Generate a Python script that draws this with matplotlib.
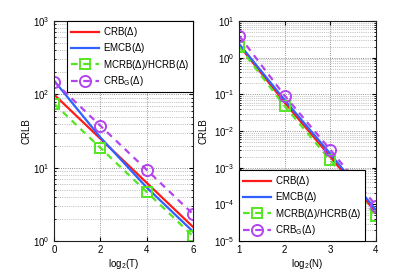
import numpy as np
import matplotlib
matplotlib.use("Agg")
import matplotlib.pyplot as plt
from matplotlib.ticker import LogLocator, NullFormatter

plt.rcParams['font.family'] = ['Liberation Sans', 'DejaVu Sans']
plt.rcParams['mathtext.default'] = 'regular'
plt.rcParams['font.size'] = 7

# left panel: x = log2(T)
logT = [0, 2, 4, 6]
crb_T = [100, 25, 6.25, 1.5625]
emcb_T = [155, 26, 5.4, 1.35]
mcrb_T = [75, 18.75, 4.69, 1.17]
crbg_T = [150, 37.5, 9.4, 2.34]

# right panel: x = log2(N)
logN = [1, 2, 3, 4]
crb_N = [2.2, 0.06, 0.002, 6e-5]
emcb_N = [2.4, 0.07, 0.0024, 7e-5]
mcrb_N = [2.0, 0.048, 0.0016, 4.8e-5]
crbg_N = [4.0, 0.092, 0.0031, 9.3e-5]

labels = [r'CRB($\Delta$)', r'EMCB($\Delta$)',
          r'MCRB($\Delta$)/HCRB($\Delta$)', r'CRB$_G$($\Delta$)']
red = '#ff1a1a'
blue = '#3060ff'
green = '#55e622'
purple = '#b444ee'


def draw(ax, x, crb, emcb, mcrb, crbg):
    ax.semilogy(x, crb, '-', color=red, lw=1.6, label=labels[0])
    ax.semilogy(x, emcb, '-', color=blue, lw=1.6, label=labels[1])
    ax.semilogy(x, mcrb, '--s', color=green, lw=1.6, ms=7, mfc='none',
                mew=1.4, dashes=(3, 2.5), label=labels[2])
    ax.semilogy(x, crbg, '--o', color=purple, lw=1.6, ms=8, mfc='none',
                mew=1.4, dashes=(3, 2.5), label=labels[3])
    ax.yaxis.set_major_locator(LogLocator(base=10, numticks=20))
    ax.yaxis.set_minor_locator(LogLocator(base=10, subs=np.arange(2, 10), numticks=20))
    ax.yaxis.set_minor_formatter(NullFormatter())
    ax.grid(True, which='major', ls=':', color='#707070', lw=0.6)
    ax.grid(True, which='minor', axis='y', ls=':', color='#909090', lw=0.5)
    ax.tick_params(which='both', direction='in', top=True, right=True,
                   labelsize=7, pad=3)
    ax.tick_params(which='major', length=3)
    ax.tick_params(which='minor', length=1.5)
    for s in ax.spines.values():
        s.set_linewidth(0.8)
        s.set_color('#202020')
    ax.set_ylabel('CRLB', fontsize=7)


fig = plt.figure(figsize=(4.15, 2.74), dpi=100)
ax1 = fig.add_axes([0.130, 0.120, 0.335, 0.803])
ax2 = fig.add_axes([0.576, 0.120, 0.330, 0.803])

draw(ax1, logT, crb_T, emcb_T, mcrb_T, crbg_T)
ax1.set_xlim(0, 6)
ax1.set_ylim(1, 1000)
ax1.set_xticks([0, 2, 4, 6])
ax1.set_xlabel('log$_2$(T)', fontsize=7, labelpad=1)
ax1.yaxis.set_label_coords(-0.16, 0.5)

draw(ax2, logN, crb_N, emcb_N, mcrb_N, crbg_N)
ax2.set_xlim(1, 4)
ax2.set_ylim(1e-5, 10)
ax2.set_xticks([1, 2, 3, 4])
ax2.set_xlabel('log$_2$(N)', fontsize=7, labelpad=1)
ax2.yaxis.set_label_coords(-0.22, 0.5)

leg_kw = dict(fontsize=7, fancybox=False, framealpha=1, edgecolor='black',
              borderaxespad=0, handlelength=2.9, handletextpad=0.4,
              labelspacing=0.25, borderpad=0.4)
l1 = ax1.legend(loc='upper right', bbox_to_anchor=(1, 1), **leg_kw)
l2 = ax2.legend(loc='lower left', bbox_to_anchor=(0, 0), **leg_kw)
for l in (l1, l2):
    l.get_frame().set_linewidth(0.8)

fig.savefig('out.png', dpi=100)
